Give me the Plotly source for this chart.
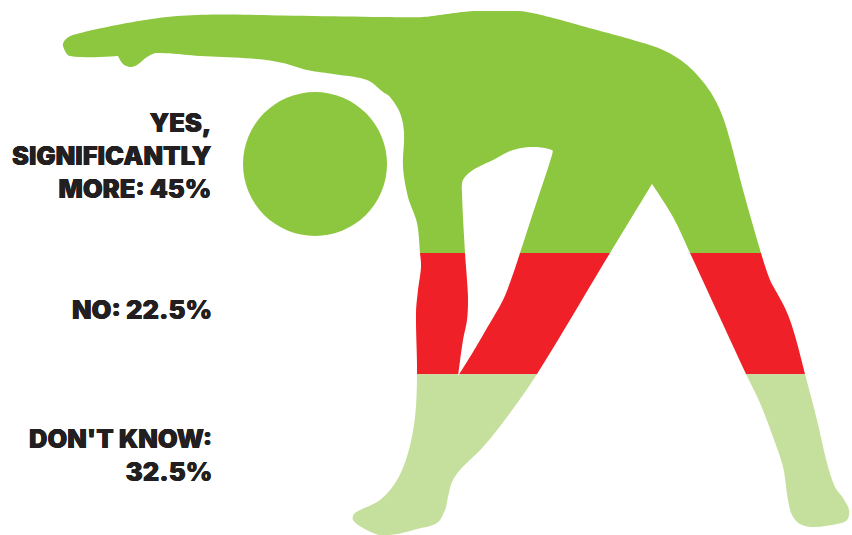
import math
import plotly.graph_objects as go

# Survey answers, stacked top to bottom over the silhouette
labels = ["YES,<br>SIGNIFICANTLY<br>MORE: 45%", "NO: 22.5%", "DON'T KNOW:<br>32.5%"]
shares = [45.0, 22.5, 32.5]
band_colors = ["#8DC63F", "#EF2027", "#C5E09D"]
label_x = [212, 212, 212]
label_y = [107, 294, 423]

# Silhouette outline in canvas units; a repeated point marks a sharp corner
body_x = [63, 65, 73, 117, 167, 217, 283, 383, 423, 447, 473, 500, 527, 553, 593, 633, 663, 687, 707, 720, 730,
          743, 761, 770, 777, 785, 791, 797, 805, 817, 827, 835, 843, 849, 847, 837, 813, 800, 792, 788, 783, 773, 760,
          746, 690, 673, 652, 652, 610, 537, 507, 483, 460, 452, 448, 445, 437, 417, 397, 380, 363, 353, 355, 380,
          397, 408, 415, 417, 416, 418, 421, 420, 417, 408, 403, 404, 400, 390, 383, 367, 333, 307, 283, 257, 200, 157,
          147, 137, 130, 123, 118, 118, 70]
body_y = [46, 40, 35, 25, 17, 14.5, 15.5, 17, 17, 14, 11, 10, 12, 18, 29, 40, 50, 65, 87, 110, 140,
          190, 253, 280, 293, 308, 323, 343, 374, 420, 463, 487, 498, 510, 520, 524, 527, 524, 515, 500, 467, 437, 403,
          374, 253, 217, 184, 184, 253, 374, 417, 447, 470, 482, 497, 510, 523, 529, 534, 535, 528, 520, 513, 500,
          480, 453, 417, 374, 313, 290, 267, 253, 223, 197, 167, 133, 113, 97, 92, 80, 74, 70, 63, 59, 56, 53,
          57, 65, 67, 64, 56, 56, 56]

# Gap between the legs, listed against the direction of the outline so it stays unfilled
gap_x = [458, 458, 473, 487, 503, 512, 520, 533, 552, 552, 533, 513, 493, 473, 463, 462, 465, 467, 468, 467, 463, 458]
gap_y = [376, 376, 352, 328, 300, 277, 253, 213, 155, 150, 147, 150, 160, 170, 180, 193, 253, 280, 300, 320, 340, 376]

# Head
head_cx, head_cy, head_r = 315, 164, 72

# Vertical scale of the stacked shares
top_of_scale = 11.0
units_per_percent = 5.38


def tangent(prev, cur, nxt):
    """Chord-weighted tangent at a point; zero where a corner is marked."""
    before = math.dist(prev, cur)
    after = math.dist(cur, nxt)
    if before == 0 or after == 0:
        return (0.0, 0.0)
    slope = [(nxt[j] - prev[j]) / (before + after) for j in (0, 1)]
    return (slope[0], slope[1])


def smooth(xs, ys, steps=10):
    """Closed Hermite curve through the outline points."""
    n = len(xs)
    pts = list(zip(xs, ys))
    out = []
    for i in range(n):
        p0, p1, p2, p3 = pts[i - 1], pts[i], pts[(i + 1) % n], pts[(i + 2) % n]
        length = math.dist(p1, p2)
        if length == 0:
            continue
        m1 = tangent(p0, p1, p2)
        m2 = tangent(p1, p2, p3)
        for k in range(steps):
            t = k / steps
            a = 2 * t**3 - 3 * t**2 + 1
            b = t**3 - 2 * t**2 + t
            c = -2 * t**3 + 3 * t**2
            d = t**3 - t**2
            out.append(tuple(
                a * p1[j] + b * length * m1[j] + c * p2[j] + d * length * m2[j]
                for j in (0, 1)
            ))
    return out


def clip(points, level, keep_above):
    """Cut a ring along a horizontal line, keeping one side."""
    inside = (lambda p: p[1] <= level) if keep_above else (lambda p: p[1] >= level)
    out = []
    for i, cur in enumerate(points):
        prev = points[i - 1]
        if inside(cur) != inside(prev):
            t = (level - prev[1]) / (cur[1] - prev[1])
            out.append((prev[0] + t * (cur[0] - prev[0]), level))
        if inside(cur):
            out.append(cur)
    return out


body = smooth(body_x, body_y)
gap = smooth(gap_x, gap_y)

fig = go.Figure()
running = 0.0
for share, color in zip(shares, band_colors):
    upper = top_of_scale + running * units_per_percent
    running += share
    lower = top_of_scale + running * units_per_percent
    xs, ys = [], []
    for ring in (body, gap):
        part = clip(clip(ring, upper, False), lower, True)
        if part:
            xs += [p[0] for p in part] + [part[0][0], None]
            ys += [p[1] for p in part] + [part[0][1], None]
    fig.add_trace(go.Scatter(
        x=xs, y=ys, mode="lines", fill="toself", fillcolor=color,
        line=dict(width=0, color=color, simplify=False), hoverinfo="skip", showlegend=False,
    ))

fig.add_shape(
    type="circle", xref="x", yref="y",
    x0=head_cx - head_r, x1=head_cx + head_r, y0=head_cy - head_r, y1=head_cy + head_r,
    fillcolor=band_colors[0], line_width=0,
)

for label, x, y in zip(labels, label_x, label_y):
    fig.add_annotation(
        x=x, y=y, xref="x", yref="y", text=label, showarrow=False,
        xanchor="right", yanchor="top", align="right",
        borderpad=0, borderwidth=0,
        font=dict(
            family="Inter", size=25.5, weight=900, color="#231F20",
            shadow="0.3px 0 0 #231F20, -0.3px 0 0 #231F20",
        ),
    )

fig.update_layout(
    width=852, height=535, margin=dict(l=0, r=0, t=0, b=0),
    paper_bgcolor="white", plot_bgcolor="white", showlegend=False,
    xaxis=dict(range=[0, 852], visible=False, fixedrange=True),
    yaxis=dict(range=[535, 0], visible=False, fixedrange=True),
)

fig.write_html("out.html")
